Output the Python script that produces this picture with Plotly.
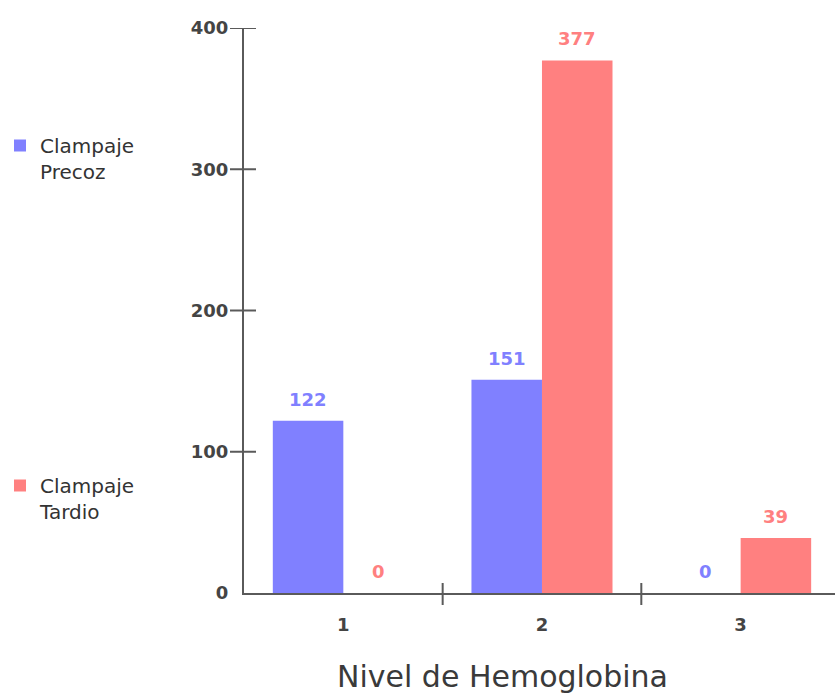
import plotly.graph_objects as go

# Hemoglobin level categories and patient counts per clamping group
categories = [1, 2, 3]
category_labels = ["1", "2", "3"]
precoz = [122, 151, 0]
tardio = [0, 377, 39]
y_ticks = [0, 100, 200, 300, 400]

BLUE = "#8080FF"
RED = "#FF8080"
AXIS = "#5a5a5a"
FONT = "DejaVu Sans"
BAR_W = 0.355

W, H = 835, 696
M_L, M_R, M_T, M_B = 244, 0, 28, 103
PLOT_W = W - M_L - M_R
PLOT_H = H - M_T - M_B

fig = go.Figure()
fig.add_trace(go.Bar(
    x=categories, y=precoz, name="Clampaje<br>Precoz",
    marker=dict(color=BLUE, line=dict(width=0)),
    width=BAR_W, offset=-BAR_W, legend="legend",
))
fig.add_trace(go.Bar(
    x=categories, y=tardio, name="Clampaje<br>Tardio",
    marker=dict(color=RED, line=dict(width=0)),
    width=BAR_W, offset=0, legend="legend2",
))

# value labels above each bar
annotations = []
for vals, off, col in ((precoz, -BAR_W, BLUE), (tardio, 0, RED)):
    for c, v in zip(categories, vals):
        annotations.append(dict(
            x=c + off + BAR_W / 2, y=v, xref="x", yref="y",
            text=str(v), showarrow=False, yanchor="bottom", yshift=9,
            font=dict(family=FONT, size=18, color=col, weight="bold"),
        ))

# axis title, placed in pixel terms relative to the plot area
title_x_px, title_y_px = 502.5, 676
annotations.append(dict(
    x=(title_x_px - M_L) / PLOT_W, y=(H - M_B - title_y_px) / PLOT_H,
    xref="paper", yref="paper",
    text="Nivel de Hemoglobina", showarrow=False,
    xanchor="center", yanchor="middle",
    font=dict(family=FONT, size=30, color="#3a3a3a"),
))

# tick marks that cross the axis lines
shapes = []
for v in y_ticks[1:]:
    shapes.append(dict(
        type="line", xref="paper", yref="y", xsizemode="pixel", xanchor=0,
        x0=-14, x1=12, y0=v, y1=v, line=dict(color=AXIS, width=2),
    ))
for b in [c + 0.5 for c in categories[:-1]]:
    shapes.append(dict(
        type="line", xref="x", yref="paper", ysizemode="pixel", yanchor=0,
        x0=b, x1=b, y0=-12, y1=10, line=dict(color=AXIS, width=2),
    ))

tick_font = dict(family=FONT, size=18, color="#444", weight="bold")

fig.update_layout(
    width=W, height=H,
    margin=dict(l=M_L, r=M_R, t=M_T, b=M_B),
    paper_bgcolor="white", plot_bgcolor="white",
    showlegend=True,
    xaxis=dict(
        range=[0.5, 3.475], tickvals=categories, ticktext=category_labels,
        ticks="outside", ticklen=14, tickcolor="rgba(0,0,0,0)",
        showline=True, linecolor=AXIS, linewidth=2,
        showgrid=False, zeroline=False, tickfont=tick_font,
    ),
    yaxis=dict(
        range=[0, 400], tickvals=y_ticks,
        ticks="outside", ticklen=10, tickcolor="rgba(0,0,0,0)",
        showline=True, linecolor=AXIS, linewidth=2,
        showgrid=False, zeroline=False, tickfont=tick_font,
    ),
    legend=dict(
        x=0, xref="container", xanchor="left",
        y=1 - 126 / H, yref="container", yanchor="top",
        font=dict(family=FONT, size=20, color="#333"),
        valign="top", bgcolor="rgba(0,0,0,0)",
    ),
    legend2=dict(
        x=0, xref="container", xanchor="left",
        y=1 - 466 / H, yref="container", yanchor="top",
        font=dict(family=FONT, size=20, color="#333"),
        valign="top", bgcolor="rgba(0,0,0,0)",
    ),
    annotations=annotations,
    shapes=shapes,
)

fig.write_html("out.html")
